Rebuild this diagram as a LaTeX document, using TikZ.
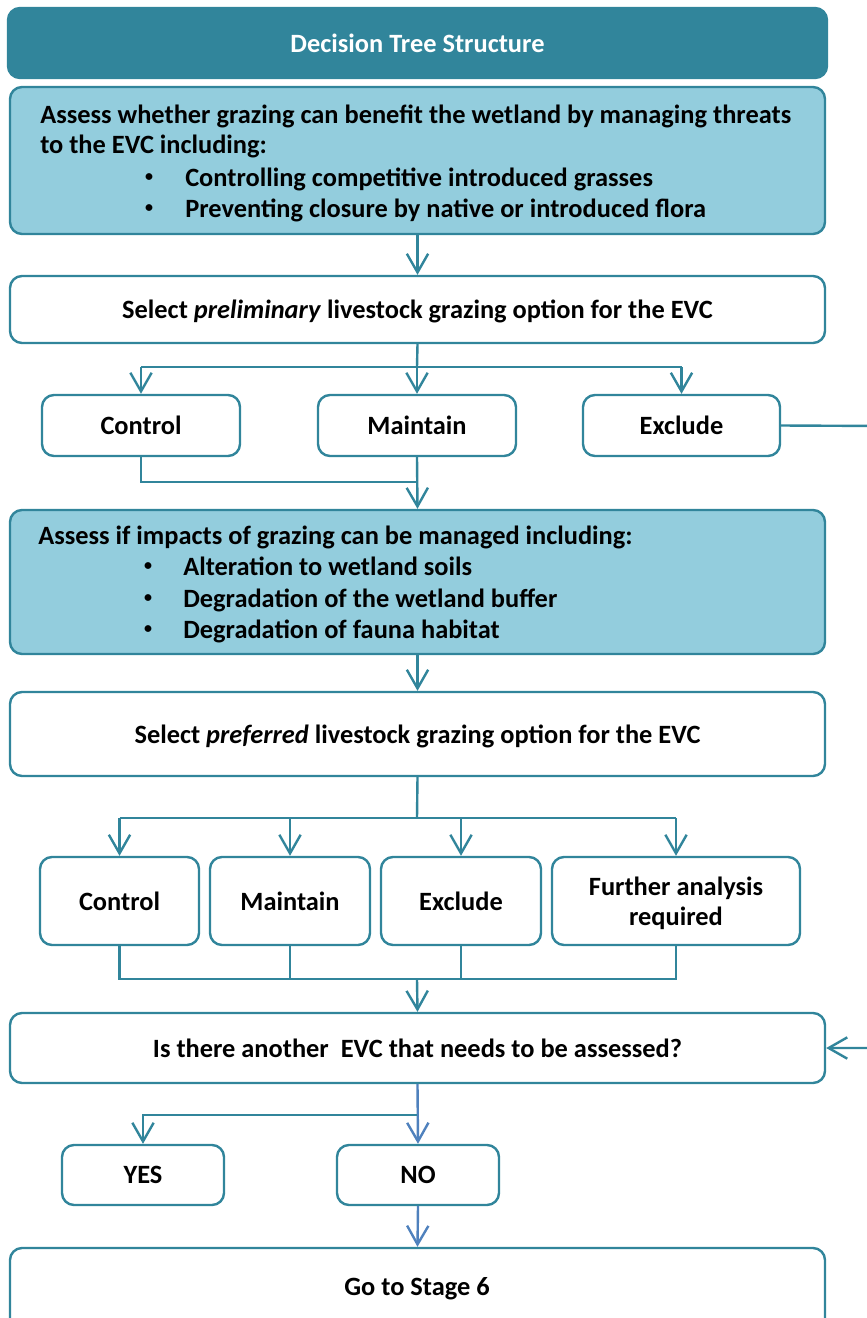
\documentclass[tikz,border=0pt]{standalone}
\usepackage{fontspec}
\setmainfont{Carlito}
\usetikzlibrary{arrows.meta}
\definecolor{tealA}{RGB}{49,133,155}
\definecolor{lightB}{RGB}{147,205,221}
\definecolor{blueA}{RGB}{79,129,189}
\newcommand{\mybox}[7]{\node[#6, minimum width={(#4-#2)*0.75pt}, minimum height={(#5-#3)*0.75pt}] (#1) at ({(#2+#4)/2},{(#3+#5)/2}) {#7};}
\begin{document}
\begin{tikzpicture}[x=0.75pt,y=-0.75pt,
  font=\fontsize{19.8}{22.5}\selectfont\bfseries,
  base/.style={draw=tealA, line width=1.8pt, rounded corners=9pt, inner sep=0pt, align=center, text depth=0pt},
  whitebox/.style={base, fill=white},
  bluebox/.style={base, fill=lightB},
  titlebox/.style={base, fill=tealA, text=white},
  txt/.style={anchor=base west, inner sep=0pt},
  bul/.style={anchor=center, inner sep=0pt, font=\fontsize{12}{12}\selectfont\bfseries},
  ln/.style={draw=tealA, line width=1.8pt},
  conn/.style={ln, -{Straight Barb[length=14pt,width=16pt,line width=1.8pt]}},
  bconn/.style={draw=blueA, line width=1.8pt, -{Straight Barb[length=14pt,width=16pt,line width=1.8pt]}}
]
\path[use as bounding box] (0,0) rectangle (867,1318);
\clip (0,0) rectangle (867,1318);

\mybox{title}{8}{8}{827}{78}{titlebox}{Decision Tree Structure}
\mybox{b1}{10}{87}{825}{234}{bluebox}{}
\node[txt] (b1a) at (40,123) {Assess whether grazing can benefit the wetland by managing threats};
\node[txt] (b1b) at (40,153) {to the EVC including:};
\node[bul] (b1c) at (149,178) {•};
\node[txt] (b1d) at (185,186) {Controlling competitive introduced grasses};
\node[bul] (b1e) at (149,209) {•};
\node[txt] (b1f) at (185,217) {Preventing closure by native or introduced flora};

\mybox{b2}{10}{276}{825}{343}{whitebox}{Select \textit{preliminary} livestock grazing option for the EVC}
\mybox{c1}{42}{395}{240}{456}{whitebox}{Control}
\mybox{m1}{318}{395}{516}{456}{whitebox}{Maintain}
\mybox{e1}{583}{395}{780}{456}{whitebox}{Exclude}

\mybox{b3}{10}{510}{825}{654}{bluebox}{}
\node[txt] (b3a) at (38,544) {Assess if impacts of grazing can be managed including:};
\node[bul] (b3b) at (148,567) {•};
\node[txt] (b3c) at (183,575) {Alteration to wetland soils};
\node[bul] (b3d) at (148,599) {•};
\node[txt] (b3e) at (183,607) {Degradation of the wetland buffer};
\node[bul] (b3f) at (148,630) {•};
\node[txt] (b3g) at (183,638) {Degradation of fauna habitat};

\mybox{b4}{10}{692}{825}{776}{whitebox}{Select \textit{preferred} livestock grazing option for the EVC}
\mybox{c2}{40}{857}{199}{945}{whitebox}{Control}
\mybox{m2}{210}{857}{370}{945}{whitebox}{Maintain}
\mybox{e2}{381}{857}{541}{945}{whitebox}{Exclude}
\mybox{f2}{552}{857}{800}{945}{whitebox}{Further analysis\\required}

\mybox{b5}{10}{1013}{825}{1083}{whitebox}{Is there another \ EVC that needs to be assessed?}
\mybox{yes}{62}{1145}{224}{1205}{whitebox}{YES}
\mybox{no}{337}{1145}{499}{1205}{whitebox}{NO}
\mybox{b6}{10}{1248}{825}{1340}{whitebox}{}
\node[text depth=0pt] (b6t) at (417,1286) {Go to Stage 6};

% junction coordinates
\coordinate (j1) at (417,367);
\coordinate (j2) at (417,482);
\coordinate (j3) at (417,818);
\coordinate (j4) at (417,979);
\coordinate (j5) at (417,1115);
\coordinate (r1) at (885,426);
\coordinate (r2) at (885,1048);

\draw[conn] (b1.south) -- (b2.north);
\draw[ln] (b2.south) -- (j1);
\draw[ln] (j1 -| c1.north) -- (j1 -| e1.north);
\draw[conn] (j1 -| c1.north) -- (c1.north);
\draw[conn] (j1) -- (m1.north);
\draw[conn] (j1 -| e1.north) -- (e1.north);

\draw[ln] (c1.south) -- (j2 -| c1.south) -- (j2);
\draw[conn] (m1.south) -- (b3.north);
\draw[conn] (e1.east) -- (r1) -- (r2) -- (b5.east);

\draw[conn] (b3.south) -- (b4.north);
\draw[ln] (b4.south) -- (j3);
\draw[ln] (j3 -| c2.north) -- (j3 -| f2.north);
\draw[conn] (j3 -| c2.north) -- (c2.north);
\draw[conn] (j3 -| m2.north) -- (m2.north);
\draw[conn] (j3 -| e2.north) -- (e2.north);
\draw[conn] (j3 -| f2.north) -- (f2.north);

\draw[ln] (c2.south) -- (j4 -| c2.south) -- (j4 -| f2.south) -- (f2.south);
\draw[ln] (m2.south) -- (j4 -| m2.south);
\draw[ln] (e2.south) -- (j4 -| e2.south);
\draw[conn] (j4) -- (b5.north);

\draw[bconn] (b5.south) -- (no.north);
\draw[conn] (j5) -- (j5 -| yes.north) -- (yes.north);
\draw[bconn] (no.south) -- (b6.north);
\end{tikzpicture}
\end{document}
